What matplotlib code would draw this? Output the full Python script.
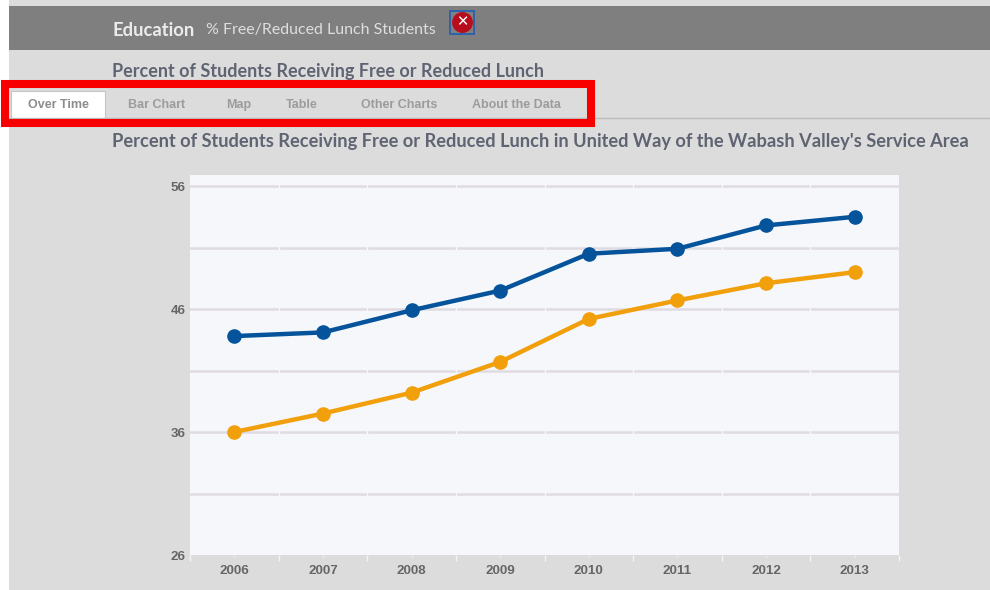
import matplotlib
matplotlib.use("Agg")
import matplotlib.pyplot as plt
from matplotlib.patches import Rectangle

years = [2006, 2007, 2008, 2009, 2010, 2011, 2012, 2013]
blue_values = [43.8, 44.1, 45.9, 47.5, 50.5, 50.9, 52.8, 53.5]
orange_values = [36.0, 37.5, 39.2, 41.7, 45.2, 46.7, 48.1, 49.0]
y_ticks = [26, 36, 46, 56]
minor_y_ticks = [31, 41, 51]
tab_labels = ["Over Time", "Bar Chart", "Map", "Table", "Other Charts", "About the Data"]
tab_centers = [58, 157, 239, 302, 399, 516]

W, H = 990, 590
plot_bg = "#f5f7fb"
plt.rcParams["font.family"] = ["Liberation Sans", "DejaVu Sans"]
fig = plt.figure(figsize=(W / 100, H / 100), dpi=100, facecolor="white")


def add_box(x, y, w, h, **kwargs):
    # pixel coordinates, top-left origin
    fig.add_artist(Rectangle((x / W, 1 - (y + h) / H), w / W, h / H,
                             transform=fig.transFigure, **kwargs))


def add_text(x, y, s, **kwargs):
    fig.text(x / W, 1 - y / H, s, va="center", **kwargs)


# page background and header
add_box(9, 0, 981, 590, facecolor="#dcdcdc", edgecolor="none")
add_box(9, 6, 981, 44, facecolor="#7f7f7f", edgecolor="none")
add_text(112, 30, "Education", color="#ececec", fontsize=13.2, fontweight="bold",
         family=["Lato", "DejaVu Sans"])
add_text(206, 30, "% Free/Reduced Lunch Students", color="#dedede", fontsize=11.5,
         family=["Lato", "DejaVu Sans"])

# close button
add_box(449, 10, 26, 25, facecolor="#2f62a8", edgecolor="none")
add_box(451, 12, 22, 21, facecolor="#808080", edgecolor="none")
fig.add_artist(plt.Line2D([462 / W], [1 - 22 / H], marker="o", markersize=14,
                          color="#b80d1c", transform=fig.transFigure, zorder=3))
add_text(462, 22, "\u2715", color="white", fontsize=10.5, fontweight="bold", ha="center", zorder=4)

add_text(112, 71, "Percent of Students Receiving Free or Reduced Lunch", color="#5f6472",
         fontsize=13, fontweight="bold", family=["Lato", "DejaVu Sans"])

# tabs
fig.add_artist(plt.Line2D([9 / W, 990 / W], [1 - 118 / H] * 2, color="#bcbcbc", lw=1,
                          transform=fig.transFigure))
add_box(11, 91, 94, 28, facecolor="white", edgecolor="#c4c4c4", linewidth=0.8)
for i, (label, cx) in enumerate(zip(tab_labels, tab_centers)):
    add_text(cx, 105, label, ha="center", fontsize=9, fontweight="bold",
             color="#8c8c8c" if i == 0 else "#9c9c9c")

# red highlight box
add_box(5, 84, 586, 39, facecolor="none", edgecolor="#f80000", linewidth=5.8, zorder=5)

add_text(112, 141, "Percent of Students Receiving Free or Reduced Lunch in United Way of the Wabash Valley's Service Area",
         color="#5f6472", fontsize=13.15, fontweight="bold", family=["Lato", "DejaVu Sans"])

# chart
ax = fig.add_axes([190 / W, 1 - 555 / H, 709 / W, 380 / H], facecolor=plot_bg, zorder=6)
ax.set_xlim(2005.5, 2013.5)
ax.set_ylim(26, 56.9)
for v in y_ticks[1:] + minor_y_ticks:
    ax.axhline(v, color="#dfdbe3", lw=1.8, zorder=1)
# small gaps in the grid lines at the band edges
for year in years[:-1]:
    ax.axvline(year + 0.5, color=plot_bg, lw=1, zorder=2)
ax.plot(years, blue_values, color="#04539b", lw=3.2, marker="o", markersize=9.5, zorder=3)
ax.plot(years, orange_values, color="#f29f0c", lw=3.2, marker="o", markersize=9.5, zorder=3)
ax.set_xticks(years)
ax.set_yticks(y_ticks)
ax.set_xticks([year + 0.5 for year in years[:-1]] + [2005.5, 2013.5], minor=True)
ax.tick_params(axis="y", length=0, labelsize=9.6, labelcolor="#666666", pad=3)
ax.tick_params(axis="x", which="major", length=2, color="#e8e8ee", width=1,
               labelsize=9.6, labelcolor="#666666", pad=5)
ax.tick_params(axis="x", which="minor", length=4, color="#f5f5f5", width=1)
for label in ax.get_xticklabels() + ax.get_yticklabels():
    label.set_fontweight("bold")
for side in ["top", "right", "left", "bottom"]:
    ax.spines[side].set_visible(False)

fig.savefig("out.png", dpi=100)
